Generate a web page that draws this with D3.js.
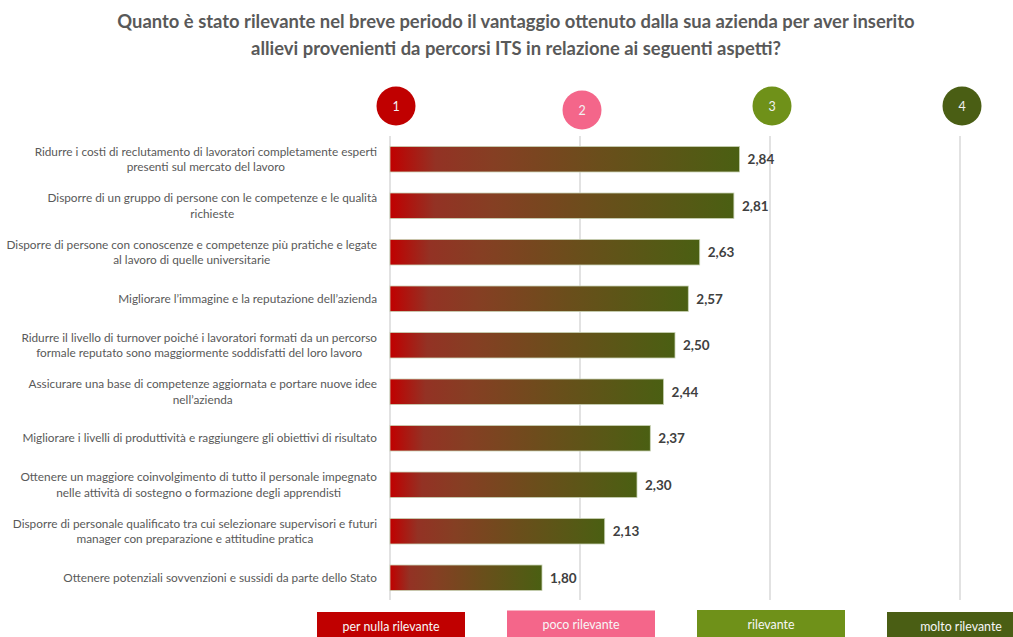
<!DOCTYPE html>
<html>
<head>
<meta charset="utf-8">
<script src="https://cdn.jsdelivr.net/npm/d3@7"></script>
<style>
  html, body { margin: 0; padding: 0; background: #fff; }
  svg { display: block; font-family: Lato, "Open Sans", sans-serif; }
</style>
</head>
<body>
<svg id="chart" width="1013" height="637"></svg>
<script>
// Survey items (each entry holds the wrapped lines of the label)
const categories = [
  ["Ridurre i costi di reclutamento di lavoratori completamente esperti", "presenti sul mercato del lavoro"],
  ["Disporre di un gruppo di persone con le competenze e le qualità", "richieste"],
  ["Disporre di persone con conoscenze e competenze più pratiche e legate", "al lavoro di quelle universitarie"],
  ["Migliorare l’immagine e la reputazione dell’azienda"],
  ["Ridurre il livello di turnover poiché i lavoratori formati da un percorso", "formale reputato sono maggiormente soddisfatti del loro lavoro"],
  ["Assicurare una base di competenze aggiornata e portare nuove idee", "nell’azienda"],
  ["Migliorare i livelli di produttività e raggiungere gli obiettivi di risultato"],
  ["Ottenere un maggiore coinvolgimento di tutto il personale impegnato", "nelle attività di sostegno o formazione degli apprendisti"],
  ["Disporre di personale qualificato tra cui selezionare supervisori e futuri", "manager con preparazione e attitudine pratica"],
  ["Ottenere potenziali sovvenzioni e sussidi da parte dello Stato"]
];
// Mean score on the 1–4 scale
const values = [2.84, 2.81, 2.63, 2.57, 2.50, 2.44, 2.37, 2.30, 2.13, 1.80];
// Scale levels and their meaning
const scaleTicks = [1, 2, 3, 4];
const legendLabels = ["per nulla rilevante", "poco rilevante", "rilevante", "molto rilevante"];
const levelColors = ["#c00000", "#f4668a", "#6f9119", "#4a5e14"];

const titleLines = [
  "Quanto è stato rilevante nel breve periodo il vantaggio ottenuto dalla sua azienda per aver inserito",
  "allievi provenienti da percorsi ITS in relazione ai seguenti aspetti?"
];

const svg = d3.select("#chart");
const fmt = v => d3.format(".2f")(v).replace(".", ",");

const x = d3.scaleLinear().domain([1, 4]).range([390, 960]);
const ids = categories.map((c, i) => i);
const y = d3.scaleBand().domain(ids).range([136.5, 600.5])
  .paddingInner(0.452).paddingOuter(0.215);

// Gradient used to fill every bar, red on the left to olive on the right
const grad = svg.append("defs").append("linearGradient")
  .attr("id", "barGrad").attr("x1", "0%").attr("x2", "100%").attr("y1", "0%").attr("y2", "0%");
[[0, "#c00000"], [0.13, "#933224"], [0.3, "#853f23"], [0.6, "#6a4e1b"], [1, "#4a5f12"]].forEach(([o, c]) =>
  grad.append("stop").attr("offset", o).attr("stop-color", c));

// Title
svg.append("g").selectAll("text").data(titleLines).join("text")
  .attr("x", 516).attr("y", (d, i) => 28 + i * 27)
  .attr("text-anchor", "middle")
  .attr("font-size", 18.4).attr("font-weight", "bold").attr("fill", "#595959")
  .text(d => d);

// Vertical grid lines at each scale level
svg.append("g").selectAll("line").data(scaleTicks).join("line")
  .attr("x1", d => x(d)).attr("x2", d => x(d))
  .attr("y1", 136).attr("y2", 600)
  .attr("stroke", "#d9d9d9").attr("stroke-width", 1.5);

// Numbered circles above the grid
const circ = svg.append("g").selectAll("g").data(scaleTicks).join("g")
  .attr("transform", (d, i) => `translate(${x(d) + 2 + (i === 0 ? 4 : 0)},${i === 1 ? 110 : 106})`);
circ.append("circle").attr("r", 19.5).attr("fill", (d, i) => levelColors[i]);
circ.append("text").attr("text-anchor", "middle").attr("dy", "0.36em")
  .attr("font-size", 12.5).attr("fill", "#f2f2f2").text(d => d);

// Bars
svg.append("g").selectAll("rect").data(values).join("rect")
  .attr("x", x(1)).attr("y", (d, i) => y(i))
  .attr("width", d => x(d) - x(1)).attr("height", y.bandwidth())
  .attr("fill", "url(#barGrad)")
  .attr("stroke", "#c8d2b4").attr("stroke-width", 0.8);

// Value labels
svg.append("g").selectAll("text").data(values).join("text")
  .attr("x", d => x(d) + 8).attr("y", (d, i) => y(i) + y.bandwidth() / 2)
  .attr("dy", "0.36em")
  .attr("font-size", 13.5).attr("font-weight", "bold").attr("fill", "#404040")
  .text(d => fmt(d));

// Category labels: block right-aligned, lines centered within it
const labelRight = 377;
const labelSize = 11.8;
const lab = svg.append("g").selectAll("text").data(categories).join("text")
  .attr("font-size", labelSize).attr("fill", "#595959").attr("text-anchor", "middle");
lab.each(function (lines, i) {
  const t = d3.select(this);
  const cy = y(i) + y.bandwidth() / 2;
  const lh = 15.5;
  const spans = lines.map((s, k) => t.append("tspan")
    .attr("y", cy + (k - (lines.length - 1) / 2) * lh).attr("dy", "0.35em").text(s));
  const w = d3.max(spans, sp => sp.node().getComputedTextLength());
  spans.forEach(sp => sp.attr("x", labelRight - w / 2));
});

// Legend boxes under each scale level
const leg = svg.append("g").selectAll("g").data(scaleTicks).join("g")
  .attr("transform", (d, i) => `translate(${x(d) + 1},${[612, 610.5, 610, 612][i]})`);
leg.append("rect").attr("x", -74).attr("width", 148).attr("height", 30)
  .attr("fill", (d, i) => levelColors[i]);
leg.append("text").attr("text-anchor", "middle").attr("y", 18.5)
  .attr("font-size", 12.4).attr("fill", "#f7f7f7").text((d, i) => legendLabels[i]);
</script>
</body>
</html>
